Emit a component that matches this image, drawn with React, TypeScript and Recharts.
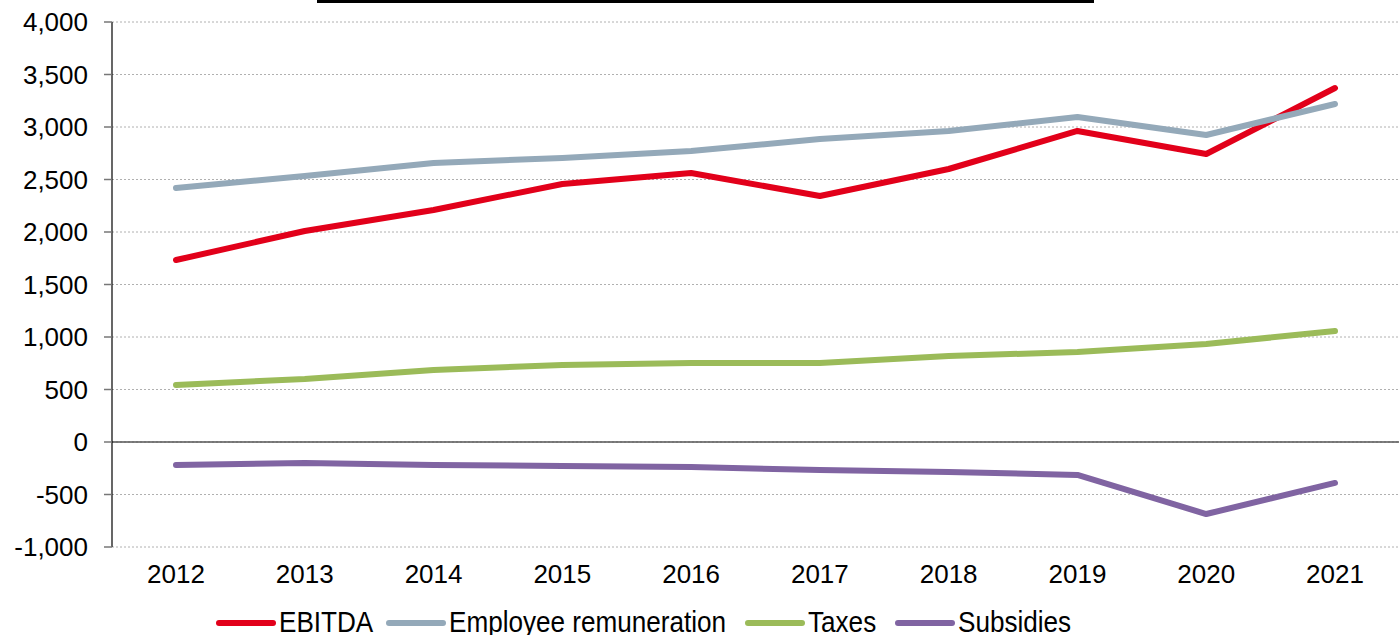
import { LineChart, Line, XAxis, YAxis, CartesianGrid, ReferenceLine, Legend } from "recharts";

const years = ["2012", "2013", "2014", "2015", "2016", "2017", "2018", "2019", "2020", "2021"];
const ebitda = [1733, 2010, 2210, 2457, 2562, 2343, 2600, 2962, 2743, 3371];
const employeeRemuneration = [2419, 2533, 2657, 2705, 2771, 2886, 2962, 3095, 2924, 3219];
const taxes = [543, 600, 686, 733, 752, 752, 819, 857, 933, 1057];
const subsidies = [-219, -200, -219, -229, -238, -267, -286, -314, -686, -390];
const yTicks = [-1000, -500, 0, 500, 1000, 1500, 2000, 2500, 3000, 3500, 4000];

const SERIES = [
  { key: "ebitda", name: "EBITDA", color: "#e2001a" },
  { key: "employee", name: "Employee remuneration", color: "#94a9b9" },
  { key: "taxes", name: "Taxes", color: "#9bbb59" },
  { key: "subsidies", name: "Subsidies", color: "#8064a2" },
];

// legend item left edges (layout only)
const LEGEND_X = [216, 386, 745, 895];

const data = years.map((year, i) => ({
  year,
  ebitda: ebitda[i],
  employee: employeeRemuneration[i],
  taxes: taxes[i],
  subsidies: subsidies[i],
}));

const FONT = "'Liberation Sans', Arial, Helvetica, sans-serif";

function LegendContent() {
  return (
    <div style={{ position: "relative", width: 1399, height: 35, fontFamily: FONT, fontSize: 29, color: "#000" }}>
      {SERIES.map((s, i) => (
        <div key={s.key} style={{ position: "absolute", left: LEGEND_X[i], top: 0, height: 35, whiteSpace: "nowrap" }}>
          <span
            style={{
              position: "absolute",
              left: 0,
              top: 20,
              width: 60,
              height: 6,
              borderRadius: 3,
              background: s.color,
            }}
          />
          <span
            style={{
              position: "absolute",
              left: 63,
              top: 5,
              lineHeight: "35px",
              display: "inline-block",
              transform: "scaleX(0.9)",
              transformOrigin: "left center",
            }}
          >
            {s.name}
          </span>
        </div>
      ))}
    </div>
  );
}

export default function App() {
  const fmt = (v: number) => v.toLocaleString("en-US");
  return (
    <div style={{ position: "absolute", left: 0, top: 0, width: 1399, height: 635, overflow: "hidden", background: "#fff" }}>
      {/* clipped title underline */}
      <div style={{ position: "absolute", left: 317, top: 0, width: 777, height: 3, background: "#000" }} />
      <LineChart
        width={1399}
        height={635}
        data={data}
        margin={{ top: 22, right: 0, left: 0, bottom: 3 }}
      >
        <CartesianGrid vertical={false} stroke="#b0b0b0" strokeDasharray="2 2" />
        <XAxis
          dataKey="year"
          axisLine={false}
          tickLine={false}
          height={50}
          padding={{ left: 64, right: 64 }}
          tick={{ fill: "#000", fontSize: 26, fontFamily: FONT }}
          tickMargin={12}
        />
        <YAxis
          domain={[-1000, 4000]}
          ticks={yTicks}
          interval={0}
          width={112}
          axisLine={{ stroke: "#000", strokeWidth: 1.2 }}
          tickLine={{ stroke: "#777", strokeWidth: 1.5 }}
          tickSize={8}
          tickMargin={16}
          tickFormatter={fmt}
          tick={{ fill: "#000", fontSize: 26, fontFamily: FONT }}
        />
        <ReferenceLine y={0} stroke="#555" strokeWidth={1.5} />
        {SERIES.map((s) => (
          <Line
            key={s.key}
            type="linear"
            dataKey={s.key}
            name={s.name}
            stroke={s.color}
            strokeWidth={6}
            strokeLinecap="round"
            strokeLinejoin="round"
            dot={false}
            isAnimationActive={false}
          />
        ))}
        <Legend
          verticalAlign="bottom"
          height={38}
          content={LegendContent}
          wrapperStyle={{ left: 0, top: 600, width: 1399, height: 35 }}
        />
      </LineChart>
    </div>
  );
}
